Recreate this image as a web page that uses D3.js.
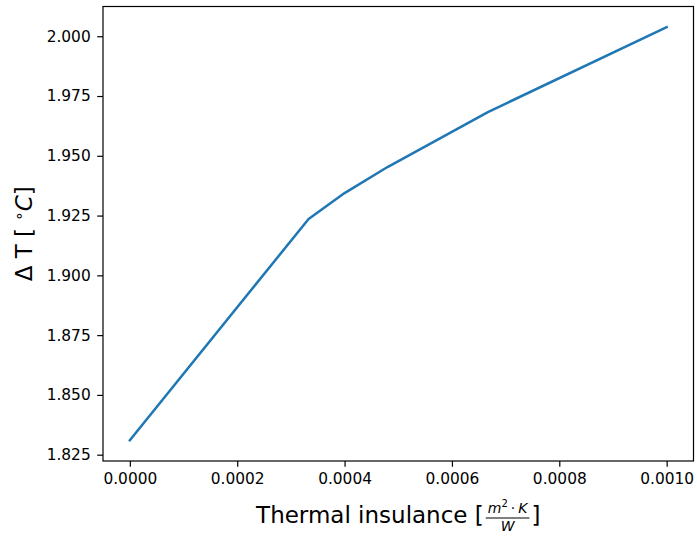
<!DOCTYPE html>
<html>
<head>
<meta charset="utf-8">
<script src="https://cdn.jsdelivr.net/npm/d3@7"></script>
<style>
  body { margin: 0; background: #fff; }
</style>
</head>
<body>
<div id="chart-area"></div>
<script>
// thermal insulance [m2.K/W] vs temperature difference [C]
var insulance = [0, 0.000333, 0.0004, 0.00048, 0.000667, 0.001];
var deltaT = [1.831, 1.9236, 1.9344, 1.9453, 1.9683, 2.0038];
var xTicks = [0, 0.0002, 0.0004, 0.0006, 0.0008, 0.0010];
var yTicks = [1.825, 1.850, 1.875, 1.900, 1.925, 1.950, 1.975, 2.000];

var margin = { left: 103, right: 3.5, top: 6.5, bottom: 78 };
var width = 697 - margin.left - margin.right,
    height = 539 - margin.top - margin.bottom;

var svg = d3.select("#chart-area")
    .append("svg")
        .attr("width", 697)
        .attr("height", 539)
        .style("font-family", "'DejaVu Sans', sans-serif");

var g = svg.append("g")
    .attr("transform", "translate(" + margin.left + "," + margin.top + ")");

var data = insulance.map((d, i) => ({ x: d, y: deltaT[i] }));

// 5% padding like matplotlib
var xExt = d3.extent(insulance), yExt = d3.extent(deltaT);
var xPad = (xExt[1] - xExt[0]) * 0.05, yPad = (yExt[1] - yExt[0]) * 0.05;

var x = d3.scaleLinear()
    .domain([xExt[0] - xPad, xExt[1] + xPad])
    .range([0, width]);

var y = d3.scaleLinear()
    .domain([yExt[0] - yPad, yExt[1] + yPad])
    .range([height, 0]);

var xAxisCall = d3.axisBottom(x)
    .tickValues(xTicks)
    .tickSize(5.8)
    .tickPadding(6.5)
    .tickFormat(d3.format(".4f"));

var yAxisCall = d3.axisLeft(y)
    .tickValues(yTicks)
    .tickSize(5.8)
    .tickPadding(6.5)
    .tickFormat(d3.format(".3f"));

g.append("g")
    .attr("class", "x axis")
    .attr("transform", "translate(0," + height + ")")
    .call(xAxisCall);

g.append("g")
    .attr("class", "y axis")
    .call(yAxisCall);

g.selectAll(".axis").attr("font-family", null).attr("font-size", null);
g.selectAll(".axis .domain").remove();
g.selectAll(".axis line").attr("stroke", "#000").attr("stroke-width", 1.2);
g.selectAll(".axis text")
    .style("font-size", "15.4px")
    .style("font-family", "'DejaVu Sans', sans-serif")
    .attr("fill", "#000");

// frame
g.append("rect")
    .attr("x", 0).attr("y", 0)
    .attr("width", width).attr("height", height)
    .attr("fill", "none")
    .attr("stroke", "#000")
    .attr("stroke-width", 1.2);

var line = d3.line()
    .x(d => x(d.x))
    .y(d => y(d.y));

g.append("path")
    .datum(data)
    .attr("d", line)
    .attr("fill", "none")
    .attr("stroke", "#1f77b4")
    .attr("stroke-width", 2.5)
    .attr("stroke-linejoin", "round")
    .attr("stroke-linecap", "square");

// X label with fraction
var xl = svg.append("g").attr("class", "x axis-label");
var t1 = xl.append("text")
    .attr("x", 0).attr("y", 0)
    .style("font-size", "23px")
    .text("Thermal insulance [");
var w1 = t1.node().getComputedTextLength();

var num = xl.append("text")
    .attr("y", -10.7)
    .style("font-size", "14px")
    .attr("text-anchor", "middle");
num.append("tspan").attr("font-style", "italic").text("m");
num.append("tspan").attr("dy", -5.5).style("font-size", "10px").text("2");
num.append("tspan").attr("dy", 5.5).attr("dx", 3).text("\u00b7");
num.append("tspan").attr("dx", 3).attr("font-style", "italic").text("K");
var wn = num.node().getComputedTextLength() + 6;

var fracW = wn + 8;
num.attr("x", w1 + fracW / 2);
xl.append("line")
    .attr("x1", w1 + 2).attr("x2", w1 + fracW - 2)
    .attr("y1", -5.3).attr("y2", -5.3)
    .attr("stroke", "#000").attr("stroke-width", 1.1);
xl.append("text")
    .attr("x", w1 + fracW / 2).attr("y", 8)
    .style("font-size", "14px")
    .attr("font-style", "italic")
    .attr("text-anchor", "middle")
    .text("W");
var t3 = xl.append("text")
    .attr("x", w1 + fracW).attr("y", 0)
    .style("font-size", "23px")
    .text("]");
var total = w1 + fracW + t3.node().getComputedTextLength();
xl.attr("transform", "translate(" + (margin.left + width / 2 - total / 2) + ",523.3)");

// Y label
var yl = svg.append("text")
    .attr("class", "y axis-label")
    .attr("transform", "translate(32," + (margin.top + height / 2) + ") rotate(-90)")
    .attr("text-anchor", "middle")
    .style("font-size", "23px");
yl.append("tspan").text("\u0394 T [ ");
yl.append("tspan").attr("dy", -8).style("font-size", "15px").text("\u2218");
yl.append("tspan").attr("dy", 8).attr("font-style", "italic").text("C");
yl.append("tspan").text("]");
</script>
</body>
</html>
